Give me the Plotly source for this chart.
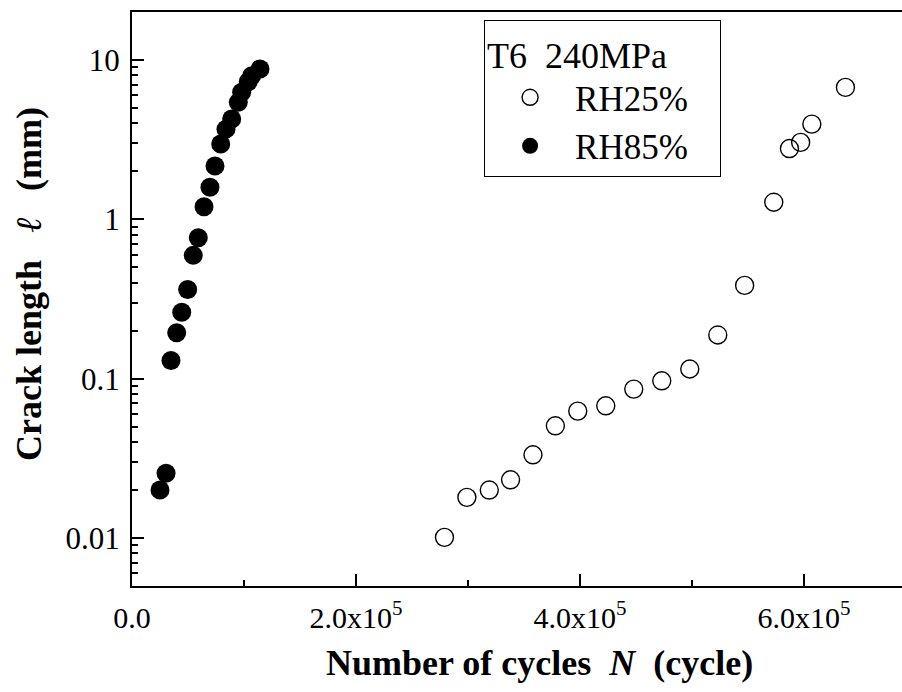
import plotly.graph_objects as go

# RH25% (open circles)
n_rh25 = [2.79e5, 2.99e5, 3.19e5, 3.38e5, 3.58e5, 3.78e5, 3.98e5, 4.23e5, 4.48e5,
          4.73e5, 4.98e5, 5.23e5, 5.47e5, 5.73e5, 5.87e5, 5.97e5, 6.07e5, 6.37e5]
l_rh25 = [0.0101, 0.018, 0.020, 0.0232, 0.0333, 0.0506, 0.0626, 0.0676, 0.086,
          0.097, 0.115, 0.188, 0.385, 1.28, 2.78, 3.04, 3.96, 6.73]

# RH85% (filled circles)
n_rh85 = [0.25e5, 0.304e5, 0.348e5, 0.399e5, 0.444e5, 0.497e5, 0.547e5, 0.592e5,
          0.643e5, 0.696e5, 0.741e5, 0.792e5, 0.839e5, 0.890e5, 0.949e5, 0.979e5,
          1.038e5, 1.069e5, 1.143e5]
l_rh85 = [0.020, 0.0255, 0.130, 0.194, 0.261, 0.363, 0.594, 0.767,
          1.20, 1.59, 2.16, 2.97, 3.68, 4.26, 5.42, 6.27,
          7.30, 7.97, 8.78]

x_tickvals = [0, 2e5, 4e5, 6e5]
x_ticktext = ["0.0", "2.0x10<sup>5</sup>", "4.0x10<sup>5</sup>", "6.0x10<sup>5</sup>"]
y_tickvals = [0.01, 0.1, 1, 10]
y_ticktext = ["0.01", "0.1", "1", "10"]

x_title = "<b>Number of cycles\u00a0\u00a0<i>N</i>\u00a0\u00a0(cycle)</b>"
y_title = "<b>Crack length</b>\u00a0\u00a0\u00a0<i>\u2113</i>\u00a0\u00a0\u00a0<b>(mm)</b>"

FONT = "Liberation Serif"
SP = "\u00a0"

y_minor = []
for dec in [0.001, 0.01, 0.1, 1, 10]:
    for k in range(2, 10):
        v = dec * k
        if 0.005 <= v <= 20:
            y_minor.append(v)

fig = go.Figure()
fig.add_trace(go.Scatter(
    x=n_rh25, y=l_rh25, mode="markers", name="RH25%" + SP * 3,
    marker=dict(symbol="circle-open", size=18, color="black", line=dict(width=1.4, color="black")),
))
fig.add_trace(go.Scatter(
    x=n_rh85, y=l_rh85, mode="markers", name="RH85%" + SP * 3,
    marker=dict(symbol="circle", size=19, color="black"),
))

fig.update_layout(
    width=902, height=692,
    margin=dict(l=132, r=0, t=12, b=106),
    paper_bgcolor="white", plot_bgcolor="white",
    font=dict(family=FONT, size=31, color="black"),
    showlegend=True,
    legend=dict(
        x=0.457, y=0.986, xanchor="left", yanchor="top",
        bordercolor="black", borderwidth=1.2, bgcolor="white",
        font=dict(family=FONT, size=35, color="black"),
        title=dict(text="T6" + SP * 2 + "240MPa", font=dict(family=FONT, size=36, color="black")),
        itemwidth=80, tracegroupgap=0,
    ),
    xaxis=dict(
        range=[0, 6.875e5], showgrid=False, zeroline=False,
        showline=True, linewidth=2, linecolor="black", mirror=True,
        ticks="inside", ticklen=12, tickwidth=2, tickcolor="black",
        tickvals=x_tickvals, ticktext=x_ticktext,
        tickfont=dict(family=FONT, size=30),
        ticklabelstandoff=4,
        minor=dict(ticks="inside", ticklen=6, tickwidth=2, tickcolor="black", dtick=1e5, tick0=0, showgrid=False),
    ),
    xaxis2=dict(
        overlaying="x", matches="x", side="top", anchor="y",
        range=[0, 6.875e5], showgrid=False, zeroline=False, showline=False,
        ticks="inside", ticklen=3, tickwidth=1.5, tickcolor="black",
        tickvals=[1e5, 2e5, 3e5, 4e5, 5e5, 6e5], showticklabels=False,
    ),
    yaxis=dict(
        type="log", range=[-2.30103, 1.30103], showgrid=False, zeroline=False,
        showline=True, linewidth=2, linecolor="black", mirror=False,
        ticks="inside", ticklen=12, tickwidth=2, tickcolor="black",
        tickvals=y_tickvals, ticktext=y_ticktext,
        tickfont=dict(family=FONT, size=31),
        ticklabelstandoff=4,
        minor=dict(ticks="inside", ticklen=6, tickwidth=2, tickcolor="black", tickvals=y_minor, showgrid=False),
    ),
    annotations=[
        dict(text=x_title, xref="paper", yref="paper", x=(539 - 132) / 770, y=(586 - 663) / 574,
             xanchor="center", yanchor="middle", showarrow=False,
             font=dict(family=FONT, size=36, color="black")),
        dict(text=y_title, xref="paper", yref="paper", x=(29 - 132) / 770, y=(586 - 284) / 574,
             xanchor="center", yanchor="middle", showarrow=False, textangle=-90,
             font=dict(family=FONT, size=36, color="black")),
    ],
)

fig.write_html("out.html")
